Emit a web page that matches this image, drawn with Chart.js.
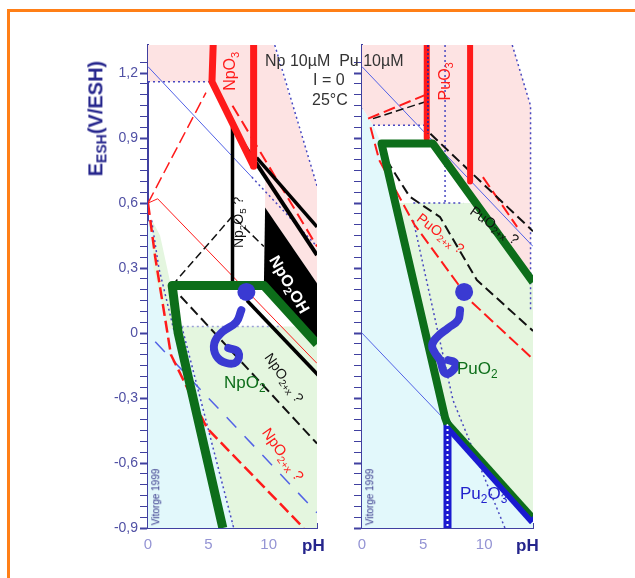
<!DOCTYPE html>
<html>
<head>
<meta charset="utf-8">
<script src="https://cdn.jsdelivr.net/npm/chart.js@4/dist/chart.umd.min.js"></script>
<style>
  body { margin: 0; background: #fff; width: 635px; height: 578px; overflow: hidden; position: relative;
         font-family: "Liberation Sans", Arial, sans-serif; }
  #frame { position: absolute; left: 7px; top: 9px; width: 800px; height: 800px; border: 3px solid #ff7f17; }
  canvas { position: absolute; top: 0; }
  .t { position: absolute; white-space: nowrap; line-height: 1; }
  .t sub { font-size: 70%; vertical-align: -0.3em; }
</style>
</head>
<body>
<div id="frame"></div>
<canvas id="npChart" width="330" height="578" style="left:0"></canvas>
<canvas id="puChart" width="305" height="578" style="left:330px"></canvas>

<!-- texts -->
<div class="t" style="left:265px;top:53px;font-size:16px;color:#333">Np 10µM&nbsp; Pu 10µM</div>
<div class="t" style="left:313px;top:72px;font-size:16px;color:#333">I = 0</div>
<div class="t" style="left:312px;top:92px;font-size:16px;color:#333">25°C</div>
<div class="t" style="left:-3px;top:107px;width:200px;text-align:center;font-size:20px;font-weight:bold;color:#25258c;transform:rotate(-90deg)">E<sub>ESH</sub>(V/ESH)</div>
<div class="t" style="left:302px;top:537px;font-size:17px;font-weight:bold;color:#25258c">pH</div>
<div class="t" style="left:516px;top:537px;font-size:17px;font-weight:bold;color:#25258c">pH</div>
<div class="t" style="left:128px;top:492px;font-size:10px;color:#35358a;transform:rotate(-90deg)">Vitorge 1999</div>
<div class="t" style="left:342px;top:492px;font-size:10px;color:#35358a;transform:rotate(-90deg)">Vitorge 1999</div>

<div class="t" style="left:212px;top:62px;font-size:16px;color:#ff1a1a;transform:rotate(-90deg)">NpO<sub>3</sub></div>
<div class="t" style="left:214px;top:214px;font-size:14px;color:#111;transform:rotate(-90deg)">Np<sub>2</sub>O<sub>5</sub> ?</div>
<div class="t" style="left:256px;top:276px;font-size:16px;font-weight:bold;color:#fff;transform:rotate(60deg)">NpO<sub>2</sub>OH</div>
<div class="t" style="left:255px;top:370px;font-size:14px;color:#111;transform:rotate(55deg)">NpO<sub>2+x</sub> ?</div>
<div class="t" style="left:224px;top:374px;font-size:17px;color:#0d6e1a">NpO<sub>2</sub></div>
<div class="t" style="left:252px;top:446px;font-size:15px;color:#ff1a1a;transform:rotate(55deg)">NpO<sub>2+x</sub> ?</div>

<div class="t" style="left:427px;top:72px;font-size:16px;color:#ff1a1a;transform:rotate(-90deg)">PuO<sub>3</sub></div>
<div class="t" style="left:466px;top:218px;font-size:14px;color:#111;transform:rotate(35deg)">PuO<sub>2+x</sub> ?</div>
<div class="t" style="left:412px;top:226px;font-size:14px;color:#ff1a1a;transform:rotate(38deg)">PuO<sub>2+x</sub> ?</div>
<div class="t" style="left:457px;top:360px;font-size:17px;color:#0d6e1a">PuO<sub>2</sub></div>
<div class="t" style="left:460px;top:485px;font-size:17px;color:#2222cc">Pu<sub>2</sub>O<sub>3</sub></div>

<script>
// ---- axis ticks ----
const phTicks = [0, 5, 10];
const eTicks = [1.2, 0.9, 0.6, 0.3, 0, -0.3, -0.6, -0.9];

// ---- Np diagram (pH, E) ----
const npPinkArea = [[0,1.33],[10.4,1.33],[14,0.68],[14,0.23],[9.7,0.58],[9.7,0.72],[8.75,0.80],[5.3,1.16],[0,1.16]];
const npCyanArea = [[0,0.52],[0.5,0.48],[1.6,0.22],[2.5,0.03],[2.8,0.03],[7.1,-0.9],[0,-0.9]];
const npGreenArea = [[2.8,0.03],[14,0.03],[14,-0.9],[7.1,-0.9]];
const npGreenStrip = [[0.35,0.52],[1.0,0.45],[1.9,0.22],[2.4,0.02],[1.7,0.02],[0.45,0.3]];
const npOxideOH = [[9.7,0.58],[9.6,0.22],[14,-0.05],[14,0.23]];
const npO3Left = [[5.4,1.33],[5.3,1.16],[8.75,0.77]];
const npO3Right = [[8.75,1.33],[8.75,0.77]];
const npNpO2 = [[14,-0.05],[9.6,0.22],[2.0,0.22],[2.5,0.0],[6.2,-0.9]];
const npBlackVert = [[7.0,0.95],[7.0,0.22]];
const npBlackDiag = [[7.0,0.95],[14,0.36]];
const npBlackDiag2 = [[9.0,0.81],[14,0.49]];
const npBlackLow = [[8.2,0.15],[14.2,-0.2]];
const npBlackDash = [[2.7,0.17],[14,-0.51]];
const npBlackDashTop = [[2.0,0.22],[7.0,0.54],[9.6,0.4]];
const npRedDash = [[0,0.6],[0.6,0.35],[1.9,-0.1],[4.9,-0.44],[12.9,-0.9]];
const npRedDashUp = [[0,0.6],[4.8,1.11]];
const npRedDashPink = [[7.0,1.05],[14,0.4]];
const npRedThin = [[0,0.6],[0.8,0.62],[14,-0.14]];
const npWaterO2 = [[0,1.23],[8.6,0.72]];
const npWaterO2Dot = [[8.6,0.72],[14,0.4]];
const npWaterH2 = [[0.6,-0.04],[14,-0.83]];
const npBlueDotTop = [[0,1.16],[5.1,1.16]];
const npBlueDotEdge = [[10.5,1.33],[14,0.68]];
const npBlueDotFlat = [[2.8,0.03],[11,0.03]];
const npBlueDotLeg = [[2.8,0.03],[7.1,-0.9]];
const npBlueDotStrip = [[0.3,0.52],[0.9,0.3],[2.2,0.0]];
const npSpot = [[8.15,0.19]];
const npCurl = [[7.73,0.106],[7.31,0.051],[6.16,0.005],[5.5,-0.046],[5.66,-0.106],[6.49,-0.138],[7.31,-0.134],[7.48,-0.088],[6.65,-0.069]];

// ---- Pu diagram (pH, E) ----
const puPinkArea = [[0,1.33],[12.3,1.33],[13.8,1.05],[13.8,0.2],[14,0.2],[14,0.235],[5.8,0.875],[5.3,0.96],[0.9,0.96],[0,1.04]];
const puCyanArea = [[0,1.04],[0.9,0.96],[1.6,0.875],[6.9,-0.41],[14,-0.86],[14,-0.9],[0,-0.9]];
const puGreenArea = [[2.73,0.6],[9.3,0.6],[14,0.235],[14,-0.86],[6.9,-0.41]];
const puO3Left = [[5.3,1.33],[5.3,0.9]];
const puO3Right = [[8.85,1.33],[8.85,0.7]];
const puPuO2 = [[14,0.235],[5.8,0.875],[1.6,0.875],[6.8,-0.39],[7.0,-0.42]];
const puPu2O3Blue = [[7.0,-0.43],[14,-0.87]];
const puPu2O3Green = [[7.0,-0.405],[14,-0.845]];
const puPu2O3Vert = [[7.0,-0.42],[7.0,-0.9]];
const puWaterO2 = [[0,1.23],[14,0.4]];
const puWaterH2 = [[0,0.0],[6.6,-0.39]];
const puBlueDotVert = [[6.8,1.33],[6.8,0.6]];
const puBlueDotFlat = [[4.2,0.6],[8.3,0.6]];
const puBlueDotTop = [[0.9,0.96],[5.3,0.96]];
const puBlueDotLeg = [[4.2,0.52],[7.45,-0.31],[11.7,-0.9]];
const puBlueDotEdge = [[12.3,1.33],[13.8,1.05],[13.8,0.1]];
const puBlueInO3 = [[5.4,1.33],[5.4,0.92]];
const puRedDashTop = [[0.5,0.99],[5.2,1.1]];
const puRedDashX = [[0.7,0.95],[1.4,0.8],[4.3,0.5],[8.85,0.15],[14,-0.12]];
const puRedDashPink = [[9.9,0.72],[12.7,0.49]];
const puBlackDashTop = [[0.9,0.99],[5.3,1.07]];
const puBlackDashRoof = [[5.6,0.92],[14,0.47]];
const puBlackDashX = [[2.0,0.8],[3.9,0.63],[6.4,0.535],[9.4,0.245],[14,0.01]];
const puSpot = [[8.36,0.19]];
const puCurl = [[8.03,0.106],[7.87,0.06],[7.05,0.023],[6.15,-0.018],[5.74,-0.055],[5.98,-0.092],[6.39,-0.125],[6.8,-0.185],[7.46,-0.171],[7.62,-0.138],[7.05,-0.125]];

// ---- colours ----
const PINK = '#fde3e3', CYAN = '#e2f8fb', LGREEN = '#e4f6df';
const RED = '#ff1a1a', GREEN = '#0d6e1a', BLUE = '#5262e6', DOTBLUE = '#4848c0', INK = '#3a3ad2';

function pts(a) { return a.map(p => ({x: p[0], y: p[1]})); }
function line(a, color, width, dash, order, extra) {
  return Object.assign({data: pts(a), showLine: true, borderColor: color, borderWidth: width,
    borderDash: dash || [], pointRadius: 0, fill: false, order: order,
    borderCapStyle: 'butt', borderJoinStyle: 'round'}, extra || {});
}
function area(a, color, order) {
  return {data: pts(a.concat([a[0]])), showLine: true, borderWidth: 0, borderColor: 'rgba(0,0,0,0)',
    backgroundColor: color, fill: 'shape', pointRadius: 0, order: order};
}
function spot(a) {
  return {data: pts(a), showLine: false, pointRadius: 9, backgroundColor: INK, borderWidth: 0, order: 1};
}
function curl(a) {
  return line(a, INK, 8, [], 1, {tension: 0.45, borderCapStyle: 'round'});
}

function scales(showLabels, yWidth) {
  return {
    x: {
      type: 'linear', min: 0, max: 14,
      border: {color: '#4040a0', width: 2},
      grid: {drawOnChartArea: false, tickLength: -5, color: '#4040a0'},
      ticks: {stepSize: 1, autoSkip: false, maxRotation: 0, padding: 13, color: '#9494d4', font: {size: 15},
              callback: v => phTicks.includes(v) ? String(v) : ''},
      afterFit: s => { s.height = 30; }
    },
    y: {
      type: 'linear', min: -0.9, max: 1.33,
      border: {color: '#4040a0', width: 2},
      grid: {drawOnChartArea: false, tickLength: 8,
             tickColor: c => (Math.abs(c.tick.value * 20 - Math.round(c.tick.value * 20)) < 1e-6 && c.tick.value < 1.31) ? '#4040a0' : 'rgba(0,0,0,0)',
             tickWidth: c => eTicks.some(t => Math.abs(t - c.tick.value) < 1e-6) ? 2 : 1},
      ticks: {stepSize: 0.05, autoSkip: false, padding: 2, color: '#5050a4', font: {size: 14},
              callback: v => {
                if (!showLabels) return '';
                const t = eTicks.find(e => Math.abs(e - v) < 1e-6);
                return t === undefined ? '' : (t === 0 ? '0' : t.toFixed(1).replace('.', ','));
              }},
      afterFit: s => { s.width = yWidth; }
    }
  };
}

function makeChart(id, datasets, padding, showLabels, yWidth) {
  return new Chart(document.getElementById(id), {
    type: 'scatter',
    data: {datasets: datasets},
    options: {
      responsive: false, animation: false, events: [],
      layout: {padding: padding},
      plugins: {legend: {display: false}, tooltip: {enabled: false}},
      scales: scales(showLabels, yWidth)
    }
  });
}

makeChart('npChart', [
  area(npPinkArea, PINK, 100),
  area(npCyanArea, CYAN, 99),
  area(npGreenArea, LGREEN, 98),
  area(npGreenStrip, LGREEN, 97),
  line(npBlueDotTop, DOTBLUE, 1.5, [2, 3], 60),
  line(npBlueDotEdge, DOTBLUE, 1.5, [2, 3], 60),
  line(npBlueDotFlat, '#9aa0d8', 1.5, [2, 3], 60),
  line(npBlueDotLeg, DOTBLUE, 1.5, [2, 3], 60),
  line(npBlueDotStrip, DOTBLUE, 1.5, [2, 3], 60),
  line(npWaterO2, BLUE, 1, [], 55),
  line(npWaterO2Dot, DOTBLUE, 1.5, [2, 3], 55),
  line(npWaterH2, BLUE, 1.5, [14, 12], 55),
  line(npRedThin, RED, 1, [], 50),
  line(npRedDash, RED, 2.5, [12, 5], 45),
  line(npRedDashUp, RED, 1.5, [12, 5], 45),
  line(npRedDashPink, RED, 2, [12, 6], 45),
  line(npBlackDash, '#111', 2, [10, 5], 40),
  line(npBlackDashTop, '#111', 1.5, [8, 4], 40),
  area(npOxideOH, '#000', 35),
  line(npBlackVert, '#000', 3.5, [], 30),
  line(npBlackDiag, '#000', 4, [], 30),
  line(npBlackDiag2, '#000', 3.5, [], 30),
  line(npBlackLow, '#000', 3.5, [], 30),
  line(npO3Left, RED, 7, [], 20),
  line(npO3Right, RED, 7, [], 20),
  line(npNpO2, GREEN, 9, [], 10),
  curl(npCurl),
  spot(npSpot)
], {left: 100, right: 13, top: 45, bottom: 20}, true, 48);

makeChart('puChart', [
  area(puPinkArea, PINK, 100),
  area(puCyanArea, CYAN, 99),
  area(puGreenArea, LGREEN, 98),
  line(puBlueDotVert, DOTBLUE, 1.5, [2, 3], 60),
  line(puBlueDotFlat, DOTBLUE, 1.5, [2, 3], 60),
  line(puBlueDotTop, DOTBLUE, 1.5, [2, 3], 60),
  line(puBlueDotLeg, DOTBLUE, 1.5, [2, 3], 60),
  line(puBlueDotEdge, DOTBLUE, 1.5, [2, 3], 60),
  line(puWaterO2, BLUE, 1, [], 55),
  line(puWaterH2, BLUE, 1, [], 55),
  line(puRedDashTop, RED, 2, [12, 5], 45),
  line(puRedDashX, RED, 2, [12, 5], 45),
  line(puRedDashPink, RED, 2, [12, 5], 45),
  line(puBlackDashTop, '#111', 1.5, [8, 4], 40),
  line(puBlackDashRoof, '#111', 2, [10, 5], 40),
  line(puBlackDashX, '#111', 2, [10, 5], 40),
  line(puO3Left, RED, 6, [], 20),
  line(puBlueInO3, '#2020a0', 1.5, [2, 2], 19),
  line(puO3Right, RED, 6, [], 20),
  line(puPu2O3Blue, '#1a1ad0', 8, [], 12),
  line(puPu2O3Vert, '#1a1ad0', 8, [], 12),
  line(puPu2O3Vert, '#ffffff', 2, [2, 3], 11),
  line(puPu2O3Green, GREEN, 4, [], 10),
  line(puPuO2, GREEN, 8, [], 10),
  curl(puCurl),
  spot(puSpot)
], {left: 20, right: 102, top: 45, bottom: 20}, false, 12);
</script>
</body>
</html>
